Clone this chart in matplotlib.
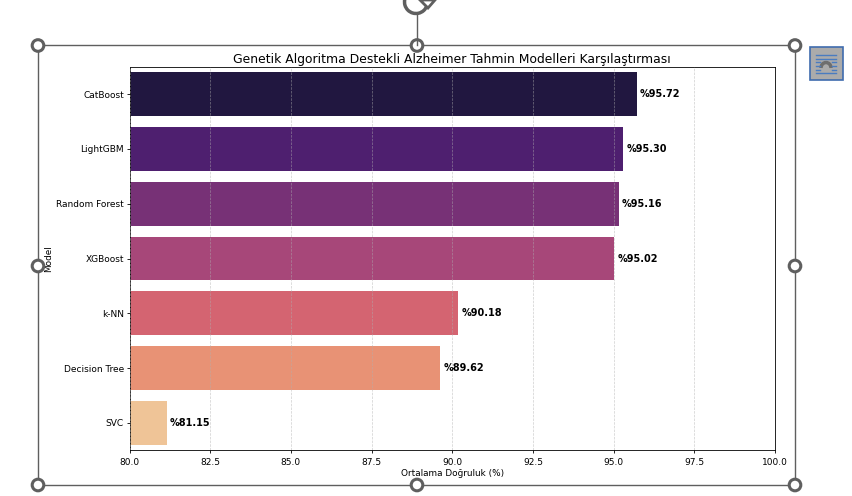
import matplotlib
matplotlib.use("Agg")
import matplotlib.pyplot as plt
from matplotlib.lines import Line2D
from matplotlib.patches import Circle, Rectangle, Arc, Polygon
import seaborn as sns

models = ["CatBoost", "LightGBM", "Random Forest", "XGBoost", "k-NN", "Decision Tree", "SVC"]
accuracy = [95.72, 95.30, 95.16, 95.02, 90.18, 89.62, 81.15]
labels = ["%95.72", "%95.30", "%95.16", "%95.02", "%90.18", "%89.62", "%81.15"]
x_ticks = [80.0, 82.5, 85.0, 87.5, 90.0, 92.5, 95.0, 97.5, 100.0]

W, H = 852, 496
TOP, BOTTOM = 66.7, 450.3
fig = plt.figure(figsize=(W / 100, H / 100), dpi=100, facecolor="white")
ax = fig.add_axes([129.5 / W, 1 - BOTTOM / H, (775 - 129.5) / W, (BOTTOM - TOP) / H])

colors = [sns.desaturate(c, 0.75) for c in sns.color_palette("magma", len(models))]
positions = list(range(len(models)))
ax.barh(positions, accuracy, height=0.8, color=colors, zorder=2)
ax.set_yticks(positions, models)
ax.set_ylim(len(models) - 0.5, -0.5)
ax.set_xlim(80, 100)
ax.set_xticks(x_ticks)
ax.set_xticklabels([f"{t:.1f}" for t in x_ticks])
ax.tick_params(axis="x", labelsize=6.5, length=2.5, width=0.6, pad=3.2)
ax.tick_params(axis="y", labelsize=6.5, length=2.5, width=0.6, pad=1.5)
for s in ax.spines.values():
    s.set_linewidth(0.6)
ax.grid(axis="x", linestyle="--", color="#b0b0b0", alpha=0.6, linewidth=0.5, zorder=3)
ax.set_axisbelow(False)
ax.set_xlabel("Ortalama Doğruluk (%)", fontsize=6.4)
ax.xaxis.set_label_coords(0.5, (BOTTOM - 473) / (BOTTOM - TOP))
ax.xaxis.label.set_va("center")
ax.set_ylabel("Model", fontsize=6.4)
ax.yaxis.set_label_coords((49 - 129.5) / (775 - 129.5), 0.5)
ax.yaxis.label.set_va("center")
ax.set_title("Genetik Algoritma Destekli Alzheimer Tahmin Modelleri Karşılaştırması", fontsize=8.9, pad=3)
for p, v, s in zip(positions, accuracy, labels):
    ax.text(v + 0.1, p, s, va="center", ha="left", fontsize=7, fontweight="bold", color="black", zorder=5)

# Selection frame drawn over the picture, in pixel coordinates
ov = fig.add_axes([0, 0, 1, 1], facecolor="none", zorder=10)
ov.set_xlim(0, W)
ov.set_ylim(H, 0)
ov.axis("off")
gray = "#5f5f5f"
ov.add_patch(Rectangle((38, 45), 757, 440, fill=False, edgecolor=gray, linewidth=1))
ov.add_line(Line2D([417, 417], [15, 45], color=gray, linewidth=1))
for cx, cy in [(38, 45.5), (417, 45.5), (795, 45.5), (38, 266), (795, 266), (38, 485), (417, 485), (795, 485)]:
    ov.add_patch(Circle((cx, cy), 5.8, facecolor="white", edgecolor=gray, linewidth=2.2))
# rotation handle
ov.add_patch(Arc((416, 2), 23, 23, theta1=20, theta2=250, color=gray, linewidth=2.5))
ov.add_patch(Polygon([[420, 0], [435, 0], [428, 8]], closed=True, facecolor="white", edgecolor=gray, linewidth=2))
# layout-options icon
ov.add_patch(Rectangle((809.5, 46.5), 33.5, 33.5, facecolor="#ababab", edgecolor="#3f6cae", linewidth=1.2))
for y, x0, x1 in [(54.5, 816, 836), (58.5, 816, 836), (62, 816, 820), (62, 832, 836), (66, 816, 820),
                  (66, 832, 836), (70, 816, 820), (70, 832, 836), (73, 816, 836)]:
    ov.add_line(Line2D([x0, x1], [y, y], color="#4a7cc0", linewidth=1))
ov.add_patch(Arc((826, 68), 10, 11, theta1=180, theta2=360, color="#6e6e6e", linewidth=2.5))

fig.savefig("out.png", dpi=100)
